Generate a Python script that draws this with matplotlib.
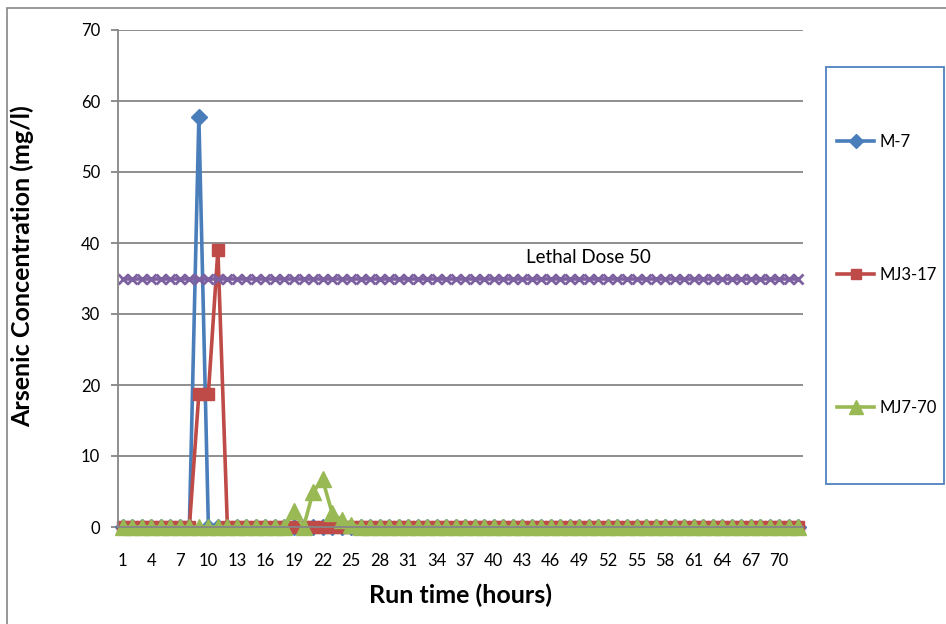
import matplotlib
matplotlib.use("Agg")
import matplotlib.pyplot as plt
from matplotlib.patches import Rectangle

plt.rcParams['font.family'] = ['Lato', 'DejaVu Sans']

# run time categories (hours)
hours = list(range(1, 73))
tick_hours = [1, 4, 7, 10, 13, 16, 19, 22, 25, 28, 31, 34, 37, 40, 43, 46,
              49, 52, 55, 58, 61, 64, 67, 70]

# arsenic concentration (mg/l) per hour
m7 = [0, 0, 0, 0, 0, 0, 0, 0, 57.8, 0, 0, 0,
      0, 0, 0, 0, 0, 0, 0, 0, 0, 0, 0, 0,
      0, 0, 0, 0, 0, 0, 0, 0, 0, 0, 0, 0,
      0, 0, 0, 0, 0, 0, 0, 0, 0, 0, 0, 0,
      0, 0, 0, 0, 0, 0, 0, 0, 0, 0, 0, 0,
      0, 0, 0, 0, 0, 0, 0, 0, 0, 0, 0, 0]
mj3_17 = [0, 0, 0, 0, 0, 0, 0, 0, 18.8, 18.8, 39.0, 0,
          0, 0, 0, 0, 0, 0, 0, 0, 0, 0, 0, 0,
          0, 0, 0, 0, 0, 0, 0, 0, 0, 0, 0, 0,
          0, 0, 0, 0, 0, 0, 0, 0, 0, 0, 0, 0,
          0, 0, 0, 0, 0, 0, 0, 0, 0, 0, 0, 0,
          0, 0, 0, 0, 0, 0, 0, 0, 0, 0, 0, 0]
mj7_70 = [0, 0, 0, 0, 0, 0, 0, 0, 0, 0, 0, 0,
          0, 0, 0, 0, 0, 0, 2.2, 0, 4.9, 6.7, 2.0, 1.0,
          0.3, 0, 0, 0, 0, 0, 0, 0, 0, 0, 0, 0,
          0, 0, 0, 0, 0, 0, 0, 0, 0, 0, 0, 0,
          0, 0, 0, 0, 0, 0, 0, 0, 0, 0, 0, 0,
          0, 0, 0, 0, 0, 0, 0, 0, 0, 0, 0, 0]
lethal_dose = [35] * 72  # constant LD50 reference level

W, H = 946, 624
fig = plt.figure(figsize=(W / 100, H / 100), dpi=100)

# outer chart frame
fig.patches.append(Rectangle((7 / W, -0.1), 1.2, 1 - 8 / H + 0.1,
                             transform=fig.transFigure, fill=False,
                             edgecolor='#868686', lw=1.2))

ax = fig.add_axes([118 / W, 1 - 527 / H, (803 - 118) / W, (527 - 30) / H])

grid_c = '#868686'
ax.set_xlim(0.5, 72.5)
ax.set_ylim(0, 70)
ax.set_yticks(range(0, 71, 10))
ax.set_xticks(tick_hours)
ax.set_xticklabels([str(t) for t in tick_hours])
ax.yaxis.grid(True, color=grid_c, lw=1.3)
ax.set_axisbelow(True)
for s in ['top', 'right']:
    ax.spines[s].set_visible(False)
ax.spines['left'].set_color(grid_c)
ax.spines['left'].set_linewidth(1.3)
ax.spines['bottom'].set_color(grid_c)
ax.spines['bottom'].set_linewidth(1.3)
ax.tick_params(axis='y', length=5, color=grid_c, width=1.3, labelsize=12, pad=8)
ax.tick_params(axis='x', length=0, labelsize=12, pad=19)

blue, red, green, purple = '#4A7EBB', '#BE4B48', '#98B954', '#7D60A0'
lw = 2.6
l1, = ax.plot(hours, m7, color=blue, lw=lw, marker='D', ms=8, clip_on=False)
l2, = ax.plot(hours, mj3_17, color=red, lw=lw, marker='s', ms=9, clip_on=False)
l3, = ax.plot(hours, mj7_70, color=green, lw=lw, marker='^', ms=12, clip_on=False)
ax.plot(hours, lethal_dose, color=purple, lw=lw, marker='x', ms=6.5, mew=2,
        clip_on=False)

ax.text(50, 37.9, 'Lethal Dose 50', ha='center', va='center', fontsize=13.5)

ax.set_xlabel('Run time (hours)', fontsize=18, fontweight='bold')
ax.xaxis.set_label_coords(0.5, (527 - 595) / 497)
ax.xaxis.label.set_va('center')
ax.set_ylabel('Arsenic Concentration (mg/l)', fontsize=18, fontweight='bold')
ax.yaxis.set_label_coords((22 - 118) / 685, (527 - 266) / 497)
ax.yaxis.label.set_va('center')

# legend box
fig.patches.append(Rectangle((826 / W, 1 - 484 / H), (944 - 826) / W,
                             (484 - 67) / H, transform=fig.transFigure,
                             fill=False, edgecolor='#4F81BD', lw=1.3))
fig.legend([l1, l2, l3], ['M-7', 'MJ3-17', 'MJ7-70'], loc='center left',
           bbox_to_anchor=(829 / W, 1 - 275 / H), frameon=False, borderpad=0,
           fontsize=12, labelspacing=7.0, handlelength=2.2,
           handletextpad=0.3, markerscale=0.85)

fig.savefig('out.png', dpi=100)
